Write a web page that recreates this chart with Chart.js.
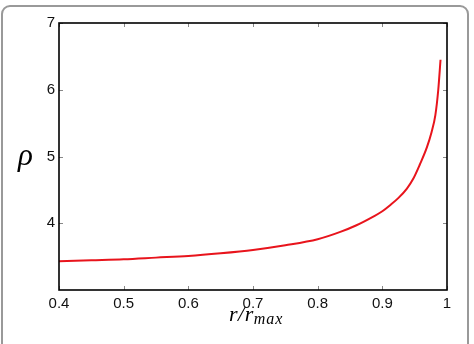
<!DOCTYPE html>
<html>
<head>
<meta charset="utf-8">
<script src="https://cdn.jsdelivr.net/npm/chart.js@4"></script>
<style>
	html, body { margin: 0; padding: 0; background: #fff; }
	#wrap { position: relative; width: 474px; height: 344px; overflow: hidden; }
	#frame { position: absolute; left: 1px; top: 5px; width: 464px; height: 360px; border: 2px solid #999; border-radius: 9px; }
	#chartBox { position: absolute; left: 0; top: 0; width: 474px; height: 344px; }
	.lbl { position: absolute; font-family: "Liberation Serif", "DejaVu Serif", serif; font-style: italic; color: #000; white-space: nowrap; }
	#ylab { left: 18px; top: 137px; font-size: 31px; }
	#xlab { left: 229px; top: 301px; font-size: 22px; letter-spacing: 0.5px; }
	#xlab sub { font-size: 16px; vertical-align: -3px; letter-spacing: 1px; }
</style>
</head>
<body>
<div id="wrap">
	<div id="frame"></div>
	<div id="chartBox"><canvas id="chart_demo" width="474" height="344"></canvas></div>
	<span class="lbl" id="ylab">ρ</span>
	<span class="lbl" id="xlab">r/r<sub>max</sub></span>
</div>
<script>
	// r / r_max
	const radius = [0.40, 0.45, 0.50, 0.55, 0.60, 0.65, 0.70, 0.75, 0.80, 0.835, 0.86, 0.886, 0.90, 0.912, 0.925, 0.938, 0.948, 0.958, 0.969, 0.976, 0.982, 0.9865, 0.99];
	// rho
	const rho = [3.43, 3.445, 3.46, 3.485, 3.51, 3.55, 3.60, 3.67, 3.76, 3.87, 3.97, 4.10, 4.18, 4.27, 4.38, 4.52, 4.67, 4.88, 5.14, 5.36, 5.62, 6.00, 6.45];
	const xTicks = [0.4, 0.5, 0.6, 0.7, 0.8, 0.9, 1];
	const yTicks = [4, 5, 6, 7];

	// inward ticks on all four sides, plus the box
	const boxTicks = {
		id: "boxTicks",
		afterDraw(chart) {
			const ctx = chart.ctx;
			const a = chart.chartArea;
			const xs = chart.scales.x;
			const ys = chart.scales.y;
			ctx.save();
			ctx.strokeStyle = "#888";
			ctx.lineWidth = 1;
			ctx.beginPath();
			xTicks.forEach(function(v) {
				const px = Math.round(xs.getPixelForValue(v)) + 0.5;
				ctx.moveTo(px, a.bottom);
				ctx.lineTo(px, a.bottom - 4);
				ctx.moveTo(px, a.top);
				ctx.lineTo(px, a.top + 4);
			});
			yTicks.forEach(function(v) {
				const py = Math.round(ys.getPixelForValue(v)) + 0.5;
				ctx.moveTo(a.left, py);
				ctx.lineTo(a.left + 4, py);
				ctx.moveTo(a.right, py);
				ctx.lineTo(a.right - 4, py);
			});
			ctx.stroke();
			ctx.strokeStyle = "#000";
			ctx.lineWidth = 1.6;
			ctx.strokeRect(a.left, a.top, a.right - a.left, a.bottom - a.top);
			ctx.restore();
		}
	};

	const data = {
		datasets: [
			{
				data: radius.map(function(r, i) { return { x: r, y: rho[i] }; }),
				borderColor: "#e8141c",
				borderWidth: 2,
				pointRadius: 0,
				fill: false,
				cubicInterpolationMode: "monotone",
			},
		],
	};

	const config = {
		type: "line",
		data: data,
		options: {
			responsive: false,
			maintainAspectRatio: false,
			animation: false,
			layout: {
				padding: { left: 0, right: 27, top: 23, bottom: 0 },
			},
			plugins: {
				legend: { display: false },
				tooltip: { enabled: false },
			},
			scales: {
				x: {
					type: "linear",
					min: 0.4,
					max: 1,
					grid: { display: false, drawTicks: false },
					border: { display: false },
					afterBuildTicks: function(s) { s.ticks = xTicks.map(function(v) { return { value: v }; }); },
					afterFit: function(s) { s.height = 54; },
					ticks: {
						padding: 5,
						color: "#111",
						font: { family: "Liberation Sans", size: 15 },
						callback: function(v) { return String(v); },
					},
				},
				y: {
					type: "linear",
					min: 3,
					max: 7,
					grid: { display: false, drawTicks: false },
					border: { display: false },
					afterBuildTicks: function(s) { s.ticks = yTicks.map(function(v) { return { value: v }; }); },
					afterFit: function(s) { s.width = 59; },
					ticks: {
						padding: 4,
						color: "#111",
						font: { family: "Liberation Sans", size: 15 },
					},
				},
			},
		},
		plugins: [boxTicks],
	};

	const chartInstance = new Chart(document.getElementById("chart_demo").getContext("2d"), config);
</script>
</body>
</html>
